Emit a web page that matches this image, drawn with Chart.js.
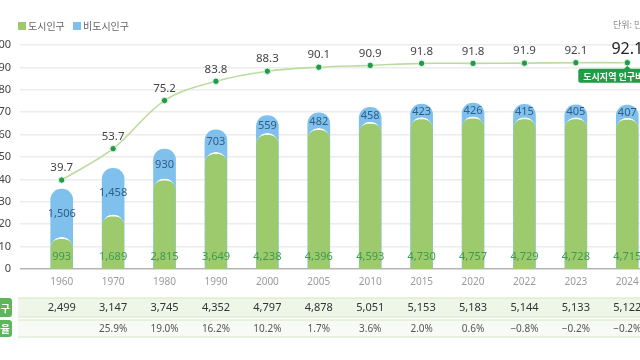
<!DOCTYPE html>
<html><head><meta charset="utf-8">
<script src="https://cdn.jsdelivr.net/npm/chart.js@4.4.1/dist/chart.umd.min.js"></script>
<style>
html,body{margin:0;padding:0;width:640px;height:360px;overflow:hidden;background:#fff;}
#wrap{position:absolute;left:-8px;top:0;width:680px;height:360px;}
</style></head><body>
<div id="wrap"><canvas id="c"></canvas></div>
<script>
// ---- data (units: 만 명, %) ----
const years = ['1960','1970','1980','1990','2000','2005','2010','2015','2020','2022','2023','2024'];
const urbanPop = [993,1689,2815,3649,4238,4396,4593,4730,4757,4729,4728,4715];
const nonUrbanPop = [1506,1458,930,703,559,482,458,423,426,415,405,407];
const urbanRate = [39.7,53.7,75.2,83.8,88.3,90.1,90.9,91.8,91.8,91.9,92.1,92.1];
const totalPop = [2499,3147,3745,4352,4797,4878,5051,5153,5183,5144,5133,5122];
const growthRate = [null,25.9,19.0,16.2,10.2,1.7,3.6,2.0,0.6,-0.8,-0.2,-0.2];
const seriesNames = ['도시인구','비도시인구','도시지역 인구비율'];
const rowNames = ['총인구','증가율'];
const unitText = '단위: 만 명';

const FONT = "'Noto Sans','Noto Sans CJK KR',sans-serif";
const KFONT = "'Noto Sans CJK KR','Noto Sans',sans-serif";
const GREEN = '#9dca6c', BLUE = '#7fc1ec', LINE = '#bcdc9f', DOT = '#1f9b4a';
const fmt = v => v.toLocaleString('en-US');
const fmtPct = v => v == null ? '' : (v < 0 ? '\u2212' + Math.abs(v).toFixed(1) : v.toFixed(1)) + '%';
const totalBars = urbanPop.map((u, i) => u + nonUrbanPop[i]);

function rr(ctx, x, y, w, h, r) {
  ctx.beginPath();
  ctx.moveTo(x + r, y); ctx.lineTo(x + w - r, y); ctx.quadraticCurveTo(x + w, y, x + w, y + r);
  ctx.lineTo(x + w, y + h - r); ctx.quadraticCurveTo(x + w, y + h, x + w - r, y + h);
  ctx.lineTo(x + r, y + h); ctx.quadraticCurveTo(x, y + h, x, y + h - r);
  ctx.lineTo(x, y + r); ctx.quadraticCurveTo(x, y, x + r, y); ctx.closePath();
}

const decor = {
  id: 'decor',
  beforeDraw(chart) {
    const ctx = chart.ctx;
    ctx.save();
    // legend
    ctx.textBaseline = 'middle'; ctx.textAlign = 'left';
    ctx.font = '10px ' + KFONT;
    ctx.fillStyle = GREEN; ctx.fillRect(26, 22, 8, 8);
    ctx.fillStyle = '#666'; ctx.fillText(seriesNames[0], 36, 26);
    ctx.fillStyle = BLUE; ctx.fillRect(81, 22, 8, 8);
    ctx.fillStyle = '#666'; ctx.fillText(seriesNames[1], 91, 26);
    // unit
    ctx.font = '9px ' + KFONT; ctx.fillStyle = '#888';
    ctx.fillText(unitText, 621, 25);
    ctx.restore();
  },
  afterDatasetsDraw(chart) {
    const ctx = chart.ctx, xs = chart.scales.x, y = chart.scales.y, y2 = chart.scales.y2;
    ctx.save();
    ctx.textAlign = 'center'; ctx.textBaseline = 'middle';
    years.forEach((yr, i) => {
      const x = xs.getPixelForValue(i);
      ctx.font = '11px ' + FONT;
      ctx.fillStyle = '#3f9a4c';
      ctx.fillText(fmt(urbanPop[i]), x, y2.getPixelForValue(0) - 12);
      const yg = y2.getPixelForValue(urbanPop[i]), yt = y2.getPixelForValue(totalBars[i]);
      ctx.fillStyle = '#2f5d86';
      ctx.fillText(fmt(nonUrbanPop[i]), x, (yg + yt) / 2 + 1);
      const py = y.getPixelForValue(urbanRate[i]);
      const last = i === years.length - 1;
      ctx.font = (last ? '16px ' : '11.5px ') + FONT;
      ctx.fillStyle = last ? '#222' : '#444';
      ctx.fillText(urbanRate[i].toFixed(1), x, py - (last ? 13 : 12));
    });
    // callout under last point
    const li = years.length - 1;
    const cx = xs.getPixelForValue(li), cy = y.getPixelForValue(urbanRate[li]);
    ctx.fillStyle = '#1f9d47';
    ctx.beginPath(); ctx.moveTo(cx - 4, cy + 7); ctx.lineTo(cx, cy + 3); ctx.lineTo(cx + 4, cy + 7); ctx.closePath(); ctx.fill();
    rr(ctx, cx - 49, cy + 6, 80, 14, 2); ctx.fill();
    ctx.fillStyle = '#fff'; ctx.font = 'bold 9px ' + KFONT; ctx.textAlign = 'left';
    ctx.fillText(seriesNames[2], cx - 44, cy + 13.5);
    ctx.restore();
  },
  afterDraw(chart) {
    const ctx = chart.ctx, xs = chart.scales.x;
    ctx.save();
    const rows = [{top: 298, h: 19, fill: '#eef6e7'}, {top: 320, h: 17, fill: '#f8fbf5'}];
    rows.forEach((r, k) => {
      ctx.fillStyle = r.fill; ctx.fillRect(26, r.top, 660, r.h);
      ctx.strokeStyle = '#d2e7c1'; ctx.lineWidth = 1.2;
      ctx.beginPath(); ctx.moveTo(26, r.top); ctx.lineTo(686, r.top);
      ctx.moveTo(26, r.top + r.h); ctx.lineTo(686, r.top + r.h); ctx.stroke();
      ctx.fillStyle = '#5db65c'; rr(ctx, -30, r.top, 50, r.h, 3); ctx.fill();
      ctx.fillStyle = '#fff'; ctx.font = 'bold 10px ' + KFONT; ctx.textAlign = 'right'; ctx.textBaseline = 'middle';
      ctx.fillText(rowNames[k], 18, r.top + r.h / 2 + 0.5);
    });
    ctx.textAlign = 'center'; ctx.textBaseline = 'middle';
    years.forEach((yr, i) => {
      const x = xs.getPixelForValue(i);
      ctx.font = '11px ' + FONT; ctx.fillStyle = '#333';
      ctx.fillText(fmt(totalPop[i]), x, 308);
      ctx.font = '10px ' + FONT; ctx.fillStyle = '#555';
      ctx.fillText(fmtPct(growthRate[i]), x, 329);
    });
    ctx.restore();
  }
};

new Chart(document.getElementById('c'), {
  data: {
    labels: years,
    datasets: [
      {type: 'line', label: seriesNames[2], data: urbanRate, yAxisID: 'y', order: 0,
       borderColor: LINE, borderWidth: 1.6, tension: 0.35, pointRadius: 3.2,
       pointBackgroundColor: DOT, pointBorderColor: '#e9f5e2', pointBorderWidth: 1},
      {type: 'bar', label: seriesNames[0], data: urbanPop, yAxisID: 'y2', order: 1, grouped: false,
       backgroundColor: GREEN, borderColor: '#ffffff', borderWidth: {top: 2, left: 0, right: 0, bottom: 0},
       borderRadius: {topLeft: 11, topRight: 11, bottomLeft: 0, bottomRight: 0}, borderSkipped: 'bottom', barThickness: 22},
      {type: 'bar', label: seriesNames[1], data: totalBars, yAxisID: 'y2', order: 2, grouped: false,
       backgroundColor: BLUE, borderWidth: 0,
       borderRadius: {topLeft: 11, topRight: 11, bottomLeft: 0, bottomRight: 0}, borderSkipped: 'bottom', barThickness: 22}
    ]
  },
  options: {
    responsive: true, maintainAspectRatio: false, animation: false,
    layout: {padding: {top: 45, right: 19, bottom: 0, left: 0}},
    plugins: {legend: {display: false}, tooltip: {enabled: false}},
    scales: {
      x: {
        grid: {display: false, drawTicks: false}, border: {display: false},
        ticks: {color: '#9a9a9a', font: {size: 10, family: FONT}, padding: 7},
        afterFit: s => { s.height = 91; }
      },
      y: {
        position: 'left', min: 0, max: 100,
        ticks: {stepSize: 10, color: '#444', font: {size: 11, family: FONT}, padding: 9},
        grid: {color: c => c.tick && c.tick.value === 0 ? '#b5b5b5' : '#ececec',
               lineWidth: c => c.tick && c.tick.value === 0 ? 1.5 : 1.5, tickLength: 16},
        border: {display: false},
        afterFit: s => { s.width = 44; }
      },
      y2: {display: false, min: 0, max: 7000}
    }
  },
  plugins: [decor]
});
</script>
</body></html>
